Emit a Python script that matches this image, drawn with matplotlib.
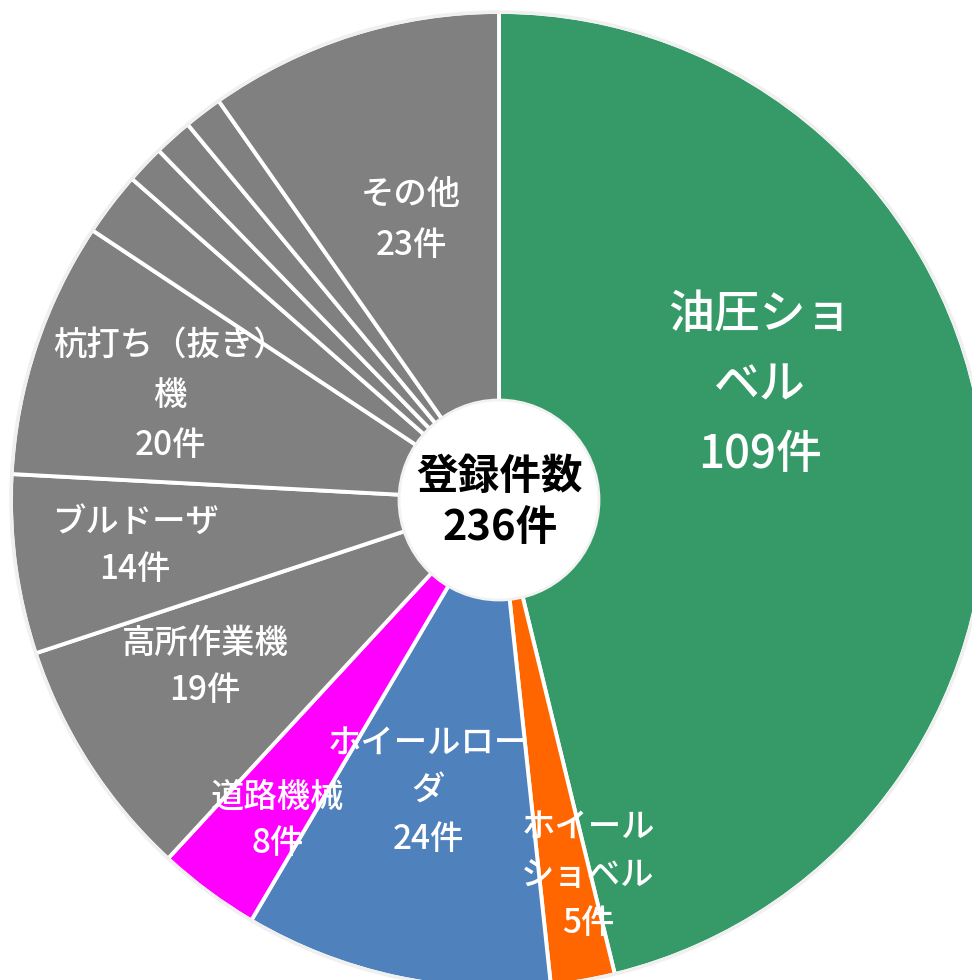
import matplotlib.pyplot as plt
from matplotlib.patches import Circle

plt.rcParams['font.family'] = ['Noto Sans CJK JP', 'DejaVu Sans']

# data, clockwise from the top
categories = ['油圧ショベル', 'ホイールショベル', 'ホイールローダ', '道路機械', '高所作業機',
              'ブルドーザ', '杭打ち（抜き）機', '', '', '', '', 'その他']
counts = [109, 5, 24, 8, 19, 14, 20, 5, 3, 3, 3, 23]
# how the names wrap inside the slices
wrapped_names = ['油圧ショ\nベル', 'ホイール\nショベル', 'ホイールロー\nダ', '道路機械', '高所作業機',
                 'ブルドーザ', '杭打ち（抜き）\n機', '', '', '', '', 'その他']
center_title = '登録件数'
total = sum(counts)

colors = ['#359A67', '#FF6600', '#4F81BD', '#FF00FF'] + ['#808080'] * 8

W, H = 972, 980
fig = plt.figure(figsize=(W / 100, H / 100), dpi=100)
ax = fig.add_axes([0, 0, 1, 1])

cx, cy, R = 499, H - 500, 488
wedges, _ = ax.pie(counts, colors=colors, startangle=90, counterclock=False,
                   center=(cx, cy), radius=R,
                   wedgeprops=dict(edgecolor='white', linewidth=2.8))

# faint outline around the pie
ax.add_patch(Circle((cx, cy), R, facecolor='none', edgecolor='#F0F0F0', linewidth=2.5, zorder=3))
# white hole in the middle
ax.add_patch(Circle((cx, cy), 100, facecolor='white', edgecolor='#F2F2F2', linewidth=2, zorder=4))

ax.set_xlim(0, W)
ax.set_ylim(0, H)
ax.set_aspect('equal')
ax.axis('off')

# label centres in pixels (from the top-left), font size and line gap
label_pos = [(760, 385, 33, 70), (588, 875, 24, 48), (428, 791, 24, 48), (278, 820, 24, 46),
             (205, 667, 24, 47), (135, 546, 24, 48), (170, 395, 24, 50), None, None, None, None,
             (411, 220, 24, 50)]


def draw_lines(lines, x, y, size, gap, **kw):
    n = len(lines)
    for i, line in enumerate(lines):
        yy = y + (i - (n - 1) / 2) * gap
        ax.text(x, H - yy, line, ha='center', va='center', fontsize=size, zorder=5, **kw)


for name, n, pos in zip(wrapped_names, counts, label_pos):
    if pos is None:
        continue
    x, y, size, gap = pos
    lines = name.split('\n') + [f'{n}件']
    draw_lines(lines, x, y, size, gap, color='white', fontweight='medium')

draw_lines([center_title, f'{total}件'], 500, 502, 30, 51, color='black', fontweight='bold')

fig.savefig('out.png', dpi=100, facecolor='white')
